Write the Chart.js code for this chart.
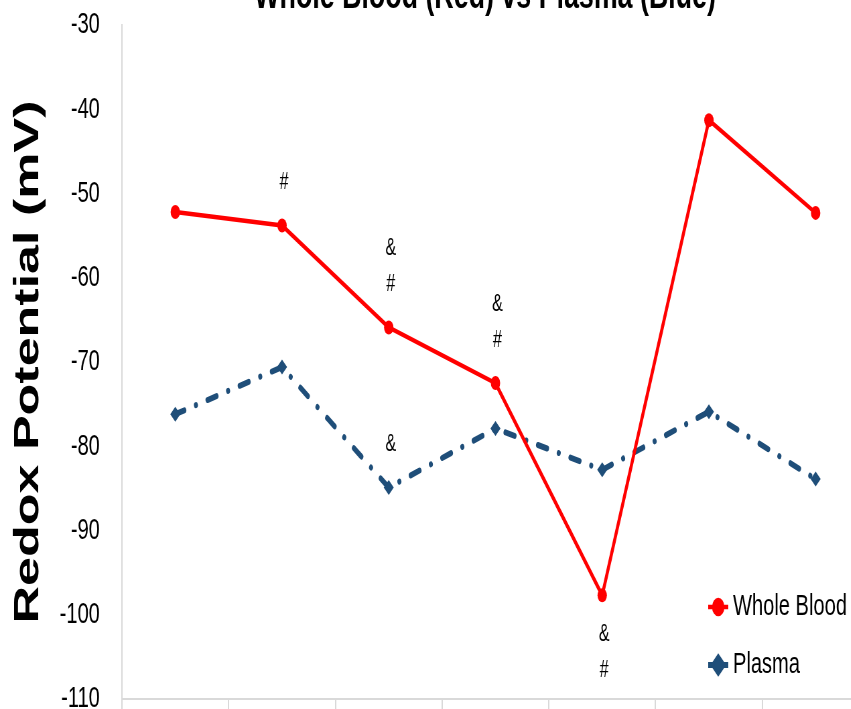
<!DOCTYPE html>
<html>
<head>
<meta charset="utf-8">
<script src="https://cdn.jsdelivr.net/npm/chart.js@4.4.1/dist/chart.umd.min.js"></script>
<style>
  html, body { margin: 0; padding: 0; background: #fff; overflow: hidden; width: 851px; height: 709px; }
  #wrap { position: absolute; left: 0; top: -50px; width: 1448px; height: 800px;
          transform: scaleX(0.67); transform-origin: 0 0; }
  canvas { display: block; }
</style>
</head>
<body>
<div id="wrap"><canvas id="chart" width="1448" height="800"></canvas></div>
<script>
// Sampling time points
const timepoints = ['Baseline', 'Day 1', 'Day 2', 'Day 3', 'Day 4', 'Day 7', 'Day 14'];

// Redox potential, mV
const wholeBlood = [-52.2, -53.8, -65.9, -72.5, -97.7, -41.3, -52.3];
const plasma     = [-76.2, -70.6, -84.9, -77.9, -82.8, -75.9, -83.9];

// Significance marks for each time point (lines stacked top to bottom)
const wholeBloodMarks = ['', '#', '&\n#', '&\n#', '&\n#', '', ''];
const plasmaMarks     = ['', '', '&', '', '', '', ''];

// Y axis range and step
const yMin = -110, yMax = -30, yStep = 10;

const RED = '#ff0000';
const BLUE = '#1F4E79';
Chart.defaults.font.family = "'Liberation Sans', Arial, sans-serif";
Chart.defaults.color = '#000';

// Draws the # / & marks next to the points
const marksPlugin = {
  id: 'marks',
  afterDatasetsDraw(chart) {
    const { ctx, scales } = chart;
    const sets = [wholeBloodMarks, plasmaMarks];
    ctx.save();
    ctx.font = "24px 'Liberation Sans', Arial, sans-serif";
    ctx.fillStyle = '#000';
    ctx.textAlign = 'center';
    ctx.textBaseline = 'middle';
    chart.data.datasets.forEach((ds, di) => {
      sets[di].forEach((txt, i) => {
        if (!txt) return;
        const lines = txt.split('\n');
        const x = scales.x.getPixelForValue(i) + 3;
        const y = scales.y.getPixelForValue(ds.data[i]);
        const below = ds.data[i] < -90;
        lines.forEach((ln, k) => {
          const yy = below ? y + 39 + k * 36 : y - 43 - (lines.length - 1 - k) * 36;
          ctx.fillText(ln, x, yy);
        });
      });
    });
    ctx.restore();
  }
};

// Legend drawn inside the plot area, lower right
const insideLegend = {
  id: 'insideLegend',
  afterDraw(chart) {
    const { ctx, chartArea } = chart;
    const x0 = chartArea.right - 240, x1 = chartArea.right - 210, xm = (x0 + x1) / 2;
    const rows = [
      { ds: chart.data.datasets[0], y: chartArea.bottom - 92 },
      { ds: chart.data.datasets[1], y: chartArea.bottom - 34 }
    ];
    ctx.save();
    rows.forEach(r => {
      ctx.strokeStyle = r.ds.borderColor;
      ctx.fillStyle = r.ds.borderColor;
      ctx.lineWidth = r.ds.borderWidth;
      ctx.beginPath(); ctx.moveTo(x0, r.y); ctx.lineTo(x1, r.y); ctx.stroke();
      Chart.helpers.drawPoint(ctx, { pointStyle: r.ds.pointStyle, radius: r.ds.pointRadius, borderWidth: 1 }, xm, r.y);
      ctx.fill();
      ctx.fillStyle = '#000';
      ctx.font = "30px 'Liberation Sans', Arial, sans-serif";
      ctx.textAlign = 'left';
      ctx.textBaseline = 'middle';
      ctx.fillText(r.ds.label, x1 + 7, r.y);
    });
    ctx.restore();
  }
};

new Chart(document.getElementById('chart'), {
  type: 'line',
  data: {
    labels: timepoints,
    datasets: [
      {
        label: 'Whole Blood',
        data: wholeBlood,
        borderColor: RED,
        backgroundColor: RED,
        borderWidth: 4.5,
        pointStyle: 'circle',
        pointRadius: 7,
        pointBorderWidth: 0,
        tension: 0
      },
      {
        label: 'Plasma',
        data: plasma,
        borderColor: BLUE,
        backgroundColor: BLUE,
        borderWidth: 6,
        borderDash: [14, 18, 0.1, 18],
        borderCapStyle: 'round',
        pointStyle: 'rectRot',
        pointRadius: 7.5,
        pointBorderWidth: 0,
        tension: 0
      }
    ]
  },
  options: {
    responsive: false,
    animation: false,
    devicePixelRatio: 1,
    layout: { padding: { left: 0, right: 0, top: 0, bottom: 10 } },
    plugins: {
      legend: { display: false },
      tooltip: { enabled: false },
      title: {
        display: true,
        text: 'Whole Blood (Red) vs Plasma (Blue)',
        font: { size: 40, weight: 'bold' },
        color: '#000',
        padding: { top: 23, bottom: 4 }
      }
    },
    scales: {
      x: {
        offset: true,
        grid: { display: true, offset: true, drawOnChartArea: false, drawTicks: true, tickLength: 24, color: '#d9d9d9', lineWidth: 2 },
        border: { display: true, color: '#d9d9d9', width: 2 },
        ticks: { font: { size: 30 }, color: '#000', padding: -13, maxRotation: 0, autoSkip: false }
      },
      y: {
        min: yMin, max: yMax,
        afterFit(scale) { scale.width = 182; },
        grid: { display: false, drawTicks: false },
        border: { display: true, color: '#d9d9d9', width: 2 },
        ticks: { stepSize: yStep, font: { size: 30 }, color: '#000', padding: 33 },
        title: { display: true, text: 'Redox Potential (mV)', font: { size: 52, weight: 'bold' }, color: '#000', padding: { top: 11, bottom: 0 } }
      },
      // empty right-hand margin beside the plot
      yRight: {
        position: 'right',
        min: yMin, max: yMax,
        afterFit(scale) { scale.width = 151; },
        grid: { display: false, drawTicks: false },
        border: { display: false },
        ticks: { display: false }
      }
    }
  },
  plugins: [marksPlugin, insideLegend]
});
</script>
</body>
</html>
